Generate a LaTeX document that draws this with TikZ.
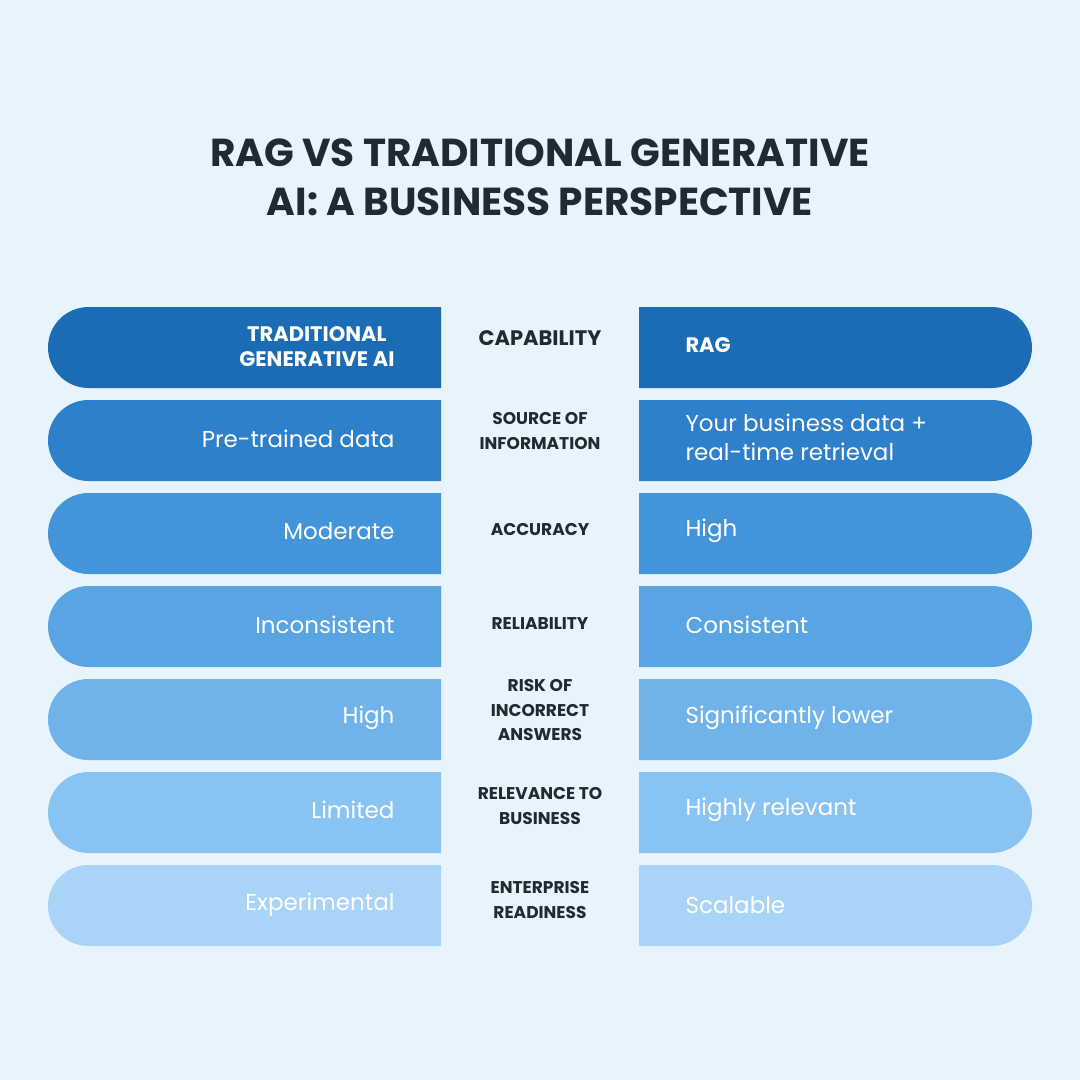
\documentclass[tikz,border=0pt]{standalone}
\usepackage{fontspec}
\setmainfont{Poppins}
\definecolor{bg}{HTML}{E8F4FD}
\definecolor{ink}{HTML}{1F2A33}
\definecolor{c1}{HTML}{1C6CB5}
\definecolor{c2}{HTML}{2E80CB}
\definecolor{c3}{HTML}{4494DA}
\definecolor{c4}{HTML}{59A4E2}
\definecolor{c5}{HTML}{6FB3EA}
\definecolor{c6}{HTML}{89C3F1}
\definecolor{c7}{HTML}{A9D4F8}
\begin{document}
\begin{tikzpicture}[x=1pt,y=-1pt,
  cell/.style={text=white,font=\fontsize{23}{29}\selectfont},
  hcell/.style={text=white,font=\fontsize{21}{25}\selectfont\bfseries},
  mid/.style={text=ink,align=center,font=\fontsize{17}{24.5}\selectfont\bfseries}]
\fill[bg] (0,0) rectangle (1080,1080);
\useasboundingbox (0,0) rectangle (1080,1080);
\node[text=ink,align=center,font=\fontsize{39}{49}\selectfont\bfseries] (title) at (540,177) {RAG VS TRADITIONAL GENERATIVE\\AI: A BUSINESS PERSPECTIVE};
\foreach \i/\c in {0/c1,1/c2,2/c3,3/c4,4/c5,5/c6,6/c7}{
  \pgfmathsetmacro\t{307+93*\i}
  \pgfmathsetmacro\b{\t+81}
  \fill[\c] (441,\t) [rounded corners=40.5] -- (48,\t) -- (48,\b) [sharp corners] -- (441,\b) -- cycle;
  \fill[\c] (639,\t) [rounded corners=40.5] -- (1032,\t) -- (1032,\b) [sharp corners] -- (639,\b) -- cycle;
}
\node[hcell,align=center,anchor=east] (l0) at (398,347) {TRADITIONAL\\GENERATIVE AI};
\node[mid] (m0) at (540,338) {\fontsize{21}{25}\selectfont CAPABILITY};
\node[hcell,anchor=west] (r0) at (682,345) {RAG};
\node[cell,anchor=east] (l1) at (398,439) {Pre-trained data};
\node[mid] (m1) at (540,431) {SOURCE OF\\INFORMATION};
\node[cell,anchor=west,align=left] (r1) at (682,437) {Your business data +\\real-time retrieval};
\node[cell,anchor=east] (l2) at (398,531) {Moderate};
\node[mid] (m2) at (540,530) {ACCURACY};
\node[cell,anchor=west] (r2) at (682,531) {High};
\node[cell,anchor=east] (l3) at (398,625) {Inconsistent};
\node[mid] (m3) at (540,624) {RELIABILITY};
\node[cell,anchor=west] (r3) at (682,625) {Consistent};
\node[cell,anchor=east] (l4) at (398,718) {High};
\node[mid] (m4) at (540,710) {RISK OF\\INCORRECT\\ANSWERS};
\node[cell,anchor=west] (r4) at (682,718) {Significantly lower};
\node[cell,anchor=east] (l5) at (398,810) {Limited};
\node[mid] (m5) at (540,806) {RELEVANCE TO\\BUSINESS};
\node[cell,anchor=west] (r5) at (682,810) {Highly relevant};
\node[cell,anchor=east] (l6) at (398,905) {Experimental};
\node[mid] (m6) at (540,900) {ENTERPRISE\\READINESS};
\node[cell,anchor=west] (r6) at (682,905) {Scalable};
\end{tikzpicture}
\end{document}
